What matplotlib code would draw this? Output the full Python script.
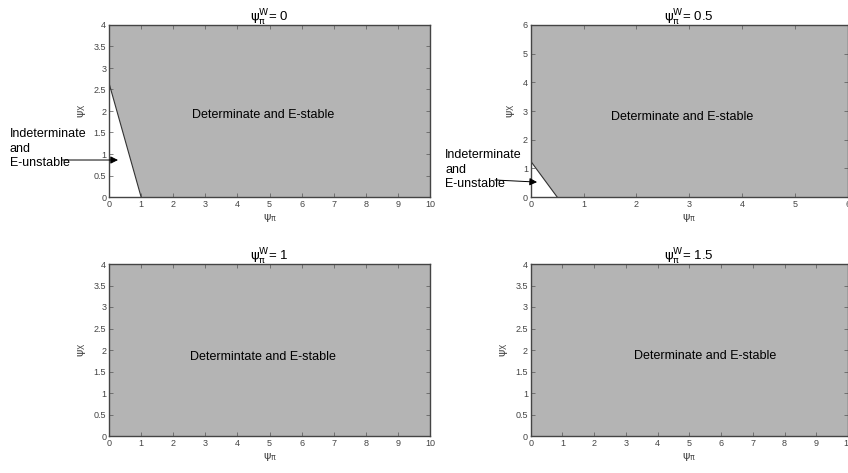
import matplotlib
matplotlib.use("Agg")
import matplotlib.pyplot as plt
from matplotlib.ticker import FormatStrFormatter

plt.rcParams['font.family'] = ['Liberation Sans', 'DejaVu Sans']
plt.rcParams['mathtext.fontset'] = 'dejavusans'

W, H = 848, 473
fig = plt.figure(figsize=(W / 100, H / 100), dpi=100)

# panel data
titles = ["0", "0.5", "1", "1.5"]
xmax = [10, 6, 10, 10]
ymax = [4, 6, 4, 4]
yticks = [[0, 0.5, 1, 1.5, 2, 2.5, 3, 3.5, 4], [0, 1, 2, 3, 4, 5, 6],
          [0, 0.5, 1, 1.5, 2, 2.5, 3, 3.5, 4], [0, 0.5, 1, 1.5, 2, 2.5, 3, 3.5, 4]]
xticks = [list(range(0, 11)), list(range(0, 7)), list(range(0, 11)), list(range(0, 11))]
# boundary of indeterminacy region (psi_pi intercept, psi_x intercept); None -> no region
boundary = [(1.0, 2.65), (0.5, 1.25), None, None]
labels = ["Determinate and E-stable", "Determinate and E-stable",
          "Determintate and E-stable", "Determinate and E-stable"]
label_pos = [(4.8, 1.9), (2.87, 2.8), (4.8, 1.84), (5.5, 1.85)]
arrow_target = [(0.28, 0.86), (0.12, 0.52), None, None]

# axes positions in pixels: left, top, right, bottom (from image top)
boxes = [(109, 25, 430, 197), (530.7, 25, 848, 197),
         (109, 264, 430, 436), (530.7, 264, 848, 436)]
text_pos = [(10, 345), (445, 324)]
arrow_start = [(62, 313), (495, 293)]

fill_c = '#b4b4b4'
for i in range(4):
    l, t, r, b = boxes[i]
    ax = fig.add_axes([l / W, 1 - b / H, (r - l) / W, (b - t) / H])
    ax.set_xlim(0, xmax[i])
    ax.set_ylim(0, ymax[i])
    if boundary[i] is None:
        poly_x = [0, xmax[i], xmax[i], 0]
        poly_y = [0, 0, ymax[i], ymax[i]]
    else:
        bx, by = boundary[i]
        poly_x = [0, bx, xmax[i], xmax[i], 0]
        poly_y = [by, 0, 0, ymax[i], ymax[i]]
        ax.plot([0, bx], [by, 0], color='#333333', lw=0.8, zorder=3)
    ax.fill(poly_x, poly_y, color=fill_c, lw=0, zorder=1)
    ax.set_xticks(xticks[i])
    ax.set_yticks(yticks[i])
    ax.yaxis.set_major_formatter(FormatStrFormatter('%g'))
    ax.tick_params(direction='in', length=3, width=0.5, labelsize=6.5,
                   colors='#555555', labelcolor='#444444', top=True, right=True, pad=2)
    for s in ax.spines.values():
        s.set_color('#444444')
        s.set_linewidth(1.0)
        s.set_zorder(4)
    ax.set_title(r'$\mathrm{\psi}_{\mathrm{\pi}}^{\mathrm{W}}$= ' + titles[i], fontsize=9.5, pad=2)
    ax.set_xlabel(r'$\mathrm{\psi}_{\mathrm{\pi}}$', fontsize=8, color='#444444', labelpad=2)
    ax.set_ylabel(r'$\mathrm{\psi}_{\mathrm{X}}$', fontsize=8, color='#444444', labelpad=4)
    ax.text(label_pos[i][0], label_pos[i][1], labels[i], ha='center', va='center',
            fontsize=9, zorder=5)
    if arrow_target[i] is not None:
        fig.text(text_pos[i][0] / W, text_pos[i][1] / H, "Indeterminate\nand\nE-unstable",
                 ha='left', va='top', fontsize=9, linespacing=1.3)
        ax.annotate('', xy=arrow_target[i], xycoords='data',
                    xytext=arrow_start[i], textcoords='figure pixels',
                    arrowprops=dict(arrowstyle='-|>', color='black', lw=0.7,
                                    mutation_scale=11, shrinkA=0, shrinkB=0),
                    annotation_clip=False, zorder=6)

fig.savefig('out.png', dpi=100, facecolor='white')
